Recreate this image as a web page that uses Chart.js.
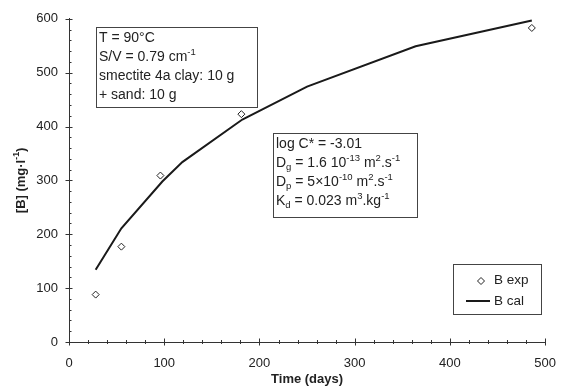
<!DOCTYPE html>
<html>
<head>
<meta charset="utf-8">
<script src="https://cdn.jsdelivr.net/npm/chart.js@4.4.0/dist/chart.umd.min.js"></script>
<style>
html, body { margin: 0; padding: 0; background: #fff; }
#wrap { width: 570px; height: 390px; }
</style>
</head>
<body>
<div id="wrap"><canvas id="boronChart" width="570" height="390"></canvas></div>
<script>
// measured boron release
var expDays = [28, 55, 96, 181, 486];
var expB = [88, 177, 309, 423, 583];
// model curve
var calDays = [28, 55, 98, 119, 182, 250, 364, 486];
var calB = [134, 211, 298, 334, 413, 474, 549, 597];

var xMin = 0, xMax = 500, xStep = 100;
var yMin = 0, yMax = 600, yStep = 100;
var minorStep = 20;

var FONT = "'Liberation Sans', Arial, sans-serif";
var INK = '#222';

function toPoints(xs, ys) {
	var pts = [];
	for (var i = 0; i < xs.length; i++) pts.push({x: xs[i], y: ys[i]});
	return pts;
}

// draws a line of text with sub/superscript parts: [text, 'n'|'sup'|'sub']
function richText(ctx, parts, x, y, size, bold) {
	var w = bold ? 'bold ' : '';
	var cx = x;
	ctx.textBaseline = 'middle';
	ctx.textAlign = 'left';
	for (var i = 0; i < parts.length; i++) {
		var t = parts[i][0], kind = parts[i][1] || 'n';
		var dy = 0, fs = size;
		if (kind == 'sup') { fs = size * 0.68; dy = -size * 0.36; }
		if (kind == 'sub') { fs = size * 0.68; dy = size * 0.28; }
		ctx.font = w + fs + 'px ' + FONT;
		ctx.fillText(t, cx, y + dy);
		cx += ctx.measureText(t).width;
	}
	return cx - x;
}

function textBox(ctx, x, y, w, h, lines, lineGap) {
	ctx.save();
	ctx.fillStyle = '#fff';
	ctx.fillRect(x, y, w, h);
	ctx.strokeStyle = '#444';
	ctx.lineWidth = 1;
	ctx.strokeRect(x + 0.5, y + 0.5, w, h);
	ctx.fillStyle = INK;
	for (var i = 0; i < lines.length; i++) {
		richText(ctx, lines[i], x + 3, y + 11 + i * lineGap, 14, false);
	}
	ctx.restore();
}

var conditions = [
	[['T = 90°C']],
	[['S/V = 0.79 cm'], ['-1', 'sup']],
	[['smectite 4a clay: 10 g']],
	[['+ sand: 10 g']]
];
var params = [
	[['log C* = -3.01']],
	[['D'], ['g', 'sub'], [' = 1.6 10'], ['-13', 'sup'], [' m'], ['2', 'sup'], ['.s'], ['-1', 'sup']],
	[['D'], ['p', 'sub'], [' = 5×10'], ['-10', 'sup'], [' m'], ['2', 'sup'], ['.s'], ['-1', 'sup']],
	[['K'], ['d', 'sub'], [' = 0.023 m'], ['3', 'sup'], ['.kg'], ['-1', 'sup']]
];

var extras = {
	id: 'extras',
	afterDraw: function(chart) {
		var ctx = chart.ctx;
		var xs = chart.scales.x, ys = chart.scales.y;
		var ax = xs.left, ay = ys.bottom;
		ctx.save();
		ctx.strokeStyle = '#333';
		ctx.lineWidth = 1;
		ctx.beginPath();
		// x ticks crossing the axis
		for (var v = xMin; v <= xMax; v += minorStep) {
			var px = Math.round(xs.getPixelForValue(v)) + 0.5;
			var len = (v % xStep == 0) ? 3.5 : 2;
			ctx.moveTo(px, ay - len);
			ctx.lineTo(px, ay + len);
		}
		for (var u = yMin; u <= yMax; u += minorStep) {
			var py = Math.round(ys.getPixelForValue(u)) + 0.5;
			var l1 = (u % yStep == 0) ? 3.5 : 0;
			var l2 = (u % yStep == 0) ? 3.5 : 2.5;
			ctx.moveTo(ax - l1, py);
			ctx.lineTo(ax + l2, py);
		}
		ctx.stroke();

		// y title with superscript, rotated
		ctx.save();
		ctx.translate(21, (ys.top + ys.bottom) / 2);
		ctx.rotate(-Math.PI / 2);
		ctx.fillStyle = INK;
		var parts = [['[B] (mg·l'], ['-1', 'sup'], [')']];
		var tw = 0;
		for (var i = 0; i < parts.length; i++) {
			ctx.font = 'bold ' + (parts[i][1] == 'sup' ? 13 * 0.68 : 13) + 'px ' + FONT;
			tw += ctx.measureText(parts[i][0]).width;
		}
		richText(ctx, parts, -tw / 2, 0, 13, true);
		ctx.restore();

		textBox(ctx, 96, 27, 161, 80, conditions, 19);
		textBox(ctx, 273, 133, 144, 84, params, 19);

		// legend
		var lx = 453, ly = 264;
		ctx.fillStyle = '#fff';
		ctx.fillRect(lx, ly, 88, 50);
		ctx.strokeStyle = '#444';
		ctx.strokeRect(lx + 0.5, ly + 0.5, 88, 50);
		var exp = chart.data.datasets[0], cal = chart.data.datasets[1];
		ctx.beginPath();
		ctx.moveTo(481, 281 - 3.5); ctx.lineTo(484.5, 281); ctx.lineTo(481, 281 + 3.5); ctx.lineTo(477.5, 281); ctx.closePath();
		ctx.fillStyle = exp.pointBackgroundColor;
		ctx.fill();
		ctx.strokeStyle = exp.pointBorderColor;
		ctx.lineWidth = 1;
		ctx.stroke();
		ctx.beginPath();
		ctx.moveTo(466, 301); ctx.lineTo(490, 301);
		ctx.strokeStyle = cal.borderColor;
		ctx.lineWidth = cal.borderWidth;
		ctx.stroke();
		ctx.fillStyle = INK;
		richText(ctx, [[exp.label]], 494, 280, 13.5, false);
		richText(ctx, [[cal.label]], 494, 301, 13.5, false);
		ctx.restore();
	}
};

new Chart('boronChart', {
	type: 'scatter',
	data: {
		datasets: [{
			label: 'B exp',
			data: toPoints(expDays, expB),
			pointStyle: 'rectRot',
			pointRadius: 3.5,
			pointBackgroundColor: '#fff',
			pointBorderColor: '#222',
			pointBorderWidth: 1,
			showLine: false
		}, {
			label: 'B cal',
			data: toPoints(calDays, calB),
			showLine: true,
			borderColor: '#1a1a1a',
			borderWidth: 2,
			pointRadius: 0,
			tension: 0,
			fill: false
		}]
	},
	options: {
		responsive: false,
		animation: false,
		layout: { padding: { left: 0, right: 20, top: 14, bottom: 0 } },
		plugins: { legend: { display: false }, tooltip: { enabled: false } },
		scales: {
			x: {
				type: 'linear',
				position: 'bottom',
				min: xMin, max: xMax,
				ticks: { stepSize: xStep, color: INK, font: { family: FONT, size: 13 }, padding: 14 },
				grid: { display: false, drawTicks: false },
				border: { display: true, color: '#333', width: 1 },
				title: { display: true, text: 'Time (days)', color: INK, font: { family: FONT, size: 13, weight: 'bold' }, padding: { top: 0, bottom: 3 } },
				afterFit: function(s) { s.height = 48; }
			},
			y: {
				type: 'linear',
				min: yMin, max: yMax,
				ticks: { stepSize: yStep, color: INK, font: { family: FONT, size: 13 }, padding: 11 },
				grid: { display: false, drawTicks: false },
				border: { display: true, color: '#333', width: 1 },
				afterFit: function(s) { s.width = 69; }
			}
		}
	},
	plugins: [extras]
});
</script>
</body>
</html>
